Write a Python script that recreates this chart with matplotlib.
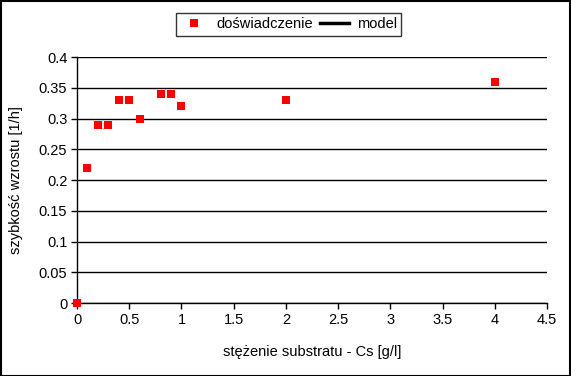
import matplotlib
matplotlib.use("Agg")
import matplotlib.pyplot as plt
from matplotlib.patches import Rectangle

plt.rcParams['font.family'] = ['Liberation Sans', 'DejaVu Sans']

# dane pomiarowe
cs = [0, 0.1, 0.2, 0.3, 0.4, 0.5, 0.6, 0.8, 0.9, 1.0, 2.0, 4.0]
mu = [0, 0.22, 0.29, 0.29, 0.33, 0.33, 0.30, 0.34, 0.34, 0.32, 0.33, 0.36]
xticks = [0, 0.5, 1, 1.5, 2, 2.5, 3, 3.5, 4, 4.5]
yticks = [0, 0.05, 0.1, 0.15, 0.2, 0.25, 0.3, 0.35, 0.4]

fs = 10.5

fig = plt.figure(figsize=(5.71, 3.76), dpi=100)
ax = fig.add_axes([0.1349, 0.194, 0.8231, 0.654])

for y in yticks:
    ax.axhline(y, color='black', lw=1.0, zorder=1)

pts, = ax.plot(cs, mu, ls='none', marker='s', ms=6.4, mew=0, color='#ff0000',
               label='doświadczenie', zorder=3, clip_on=False)
# model - brak danych, tylko w legendzie
mdl, = ax.plot([], [], color='black', lw=2.5, label='model')

ax.set_xlim(0, 4.5)
ax.set_ylim(0, 0.4)
ax.set_xticks(xticks)
ax.set_xticklabels([f'{v:g}' for v in xticks])
ax.set_yticks(yticks)
ax.set_yticklabels([f'{v:g}' for v in yticks])
for s in ['top', 'right']:
    ax.spines[s].set_visible(False)
for s in ['left', 'bottom']:
    ax.spines[s].set_linewidth(1.0)
ax.tick_params(direction='out', length=4, width=1, labelsize=fs, pad=3)

ax.set_xlabel('stężenie substratu - Cs [g/l]', fontsize=fs, labelpad=13)
ax.set_ylabel('szybkość wzrostu [1/h]', fontsize=fs, labelpad=11)

fig.legend(handles=[pts, mdl], loc='center', bbox_to_anchor=(0.505, 0.935),
           ncol=2, fontsize=fs, frameon=True, fancybox=False,
           edgecolor='black', handlelength=2.0, handletextpad=0.5,
           columnspacing=0.5, borderpad=0.3, markerscale=1.0)

fig.patches.append(Rectangle((0.001, 0.001), 0.997, 0.996, transform=fig.transFigure,
                             fill=False, edgecolor='black', lw=1.5))

fig.savefig('out.png', dpi=100)
